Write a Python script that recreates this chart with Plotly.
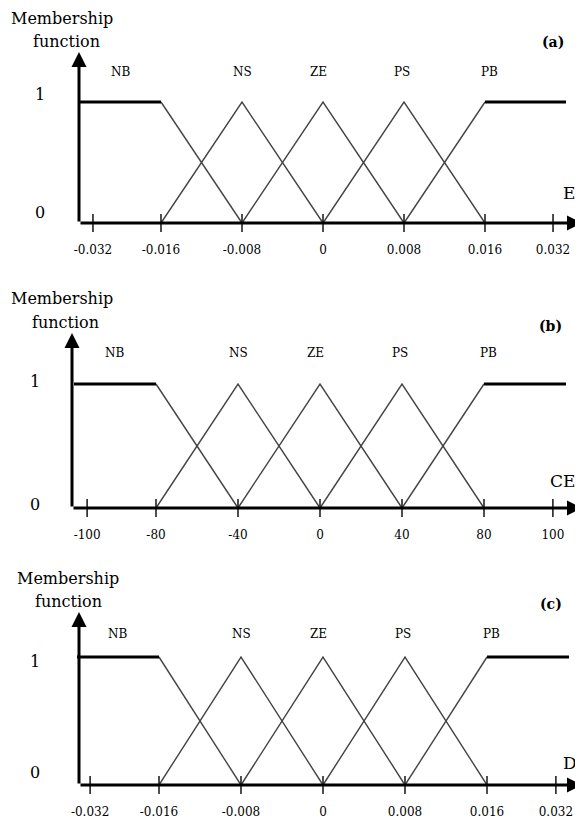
import plotly.graph_objects as go

# fuzzy partition shared by E, CE and D (x measured in breakpoint steps)
set_labels = ["NB", "NS", "ZE", "PS", "PB"]
set_label_x = [-2.5, -1.0, -0.05, 0.97, 2.05]
nb_flat_x, nb_flat_y = [-3, -2], [1, 1]
nb_fall_x, nb_fall_y = [-2, -1], [1, 0]
ns_x, ns_y = [-2, -1, 0], [0, 1, 0]
ze_x, ze_y = [-1, 0, 1], [0, 1, 0]
ps_x, ps_y = [0, 1, 2], [0, 1, 0]
pb_rise_x, pb_rise_y = [1, 2], [0, 1]
pb_flat_x, pb_flat_y = [2, 3], [1, 1]

# the outer ticks sit a little closer in the original sketch
tick_steps = [-2.84, -2, -1, 0, 1, 2, 2.84]
e_ticks = ["-0.032", "-0.016", "-0.008", "0", "0.008", "0.016", "0.032"]
ce_ticks = ["-100", "-80", "-40", "0", "40", "80", "100"]
d_ticks = ["-0.032", "-0.016", "-0.008", "0", "0.008", "0.016", "0.032"]

# page body has an 8px margin, so the figure is shrunk by that much
OFF = 8
PAGE_W, PAGE_H = 583, 821
W, H = PAGE_W - OFF, PAGE_H - OFF
PAD = 12
SERIF = "DejaVu Serif"

# per panel: zero px, px per step, axis px, px per unit, panel top px, and text spots (page px)
panels = [
    dict(var="E", tag="(a)", ticks=e_ticks, x0=323, sx=81, y0=223, sy=121, top=OFF,
         yax=79, arrow_top=52, memb=(62, 18), func=(66, 41), tagp=(553, 42),
         one=(40, 94), zero=(40, 212), varp=(569, 193), lab_y=72),
    dict(var="CE", tag="(b)", ticks=ce_ticks, x0=320, sx=82, y0=508, sy=124, top=268,
         yax=72, arrow_top=333, memb=(62, 298), func=(65, 322), tagp=(550, 326),
         one=(35, 381), zero=(35, 504), varp=(562, 481), lab_y=353),
    dict(var="D", tag="(c)", ticks=d_ticks, x0=323, sx=82, y0=785, sy=128, top=550,
         yax=79, arrow_top=612, memb=(68, 578), func=(68, 601), tagp=(551, 604),
         one=(35, 661), zero=(35, 772), varp=(570, 763), lab_y=634),
]

fig = go.Figure()
layout = {}
annotations = []

for i, p in enumerate(panels):
    sfx = "" if i == 0 else str(i + 1)
    xa, ya = "x" + sfx, "y" + sfx

    def px(v, p=p):
        return (v - p["x0"]) / p["sx"]

    def py(v, p=p):
        return (p["y0"] - v) / p["sy"]

    # thin sloped edges
    for xs, ys in [(nb_fall_x, nb_fall_y), (ns_x, ns_y), (ze_x, ze_y),
                   (ps_x, ps_y), (pb_rise_x, pb_rise_y)]:
        fig.add_trace(go.Scatter(x=xs, y=ys, mode="lines", xaxis=xa, yaxis=ya,
                                 line=dict(color="#444444", width=1.4),
                                 showlegend=False, hoverinfo="skip"))
    # thick shoulders
    for xs, ys in [(nb_flat_x, nb_flat_y), (pb_flat_x, pb_flat_y)]:
        fig.add_trace(go.Scatter(x=xs, y=ys, mode="lines", xaxis=xa, yaxis=ya,
                                 line=dict(color="black", width=3),
                                 showlegend=False, hoverinfo="skip"))
    # tick marks crossing the axis
    fig.add_trace(go.Scatter(x=tick_steps, y=[0] * len(tick_steps), mode="markers",
                             xaxis=xa, yaxis=ya, cliponaxis=False,
                             marker=dict(symbol="line-ns", size=13,
                                         line=dict(color="#222222", width=1.6)),
                             showlegend=False, hoverinfo="skip"))

    layout["xaxis" + sfx] = dict(
        domain=[0, 1], range=[px(OFF), px(PAGE_W)], anchor=ya,
        tickvals=tick_steps, ticktext=p["ticks"], ticks="outside", ticklen=4,
        tickcolor="rgba(0,0,0,0)", showgrid=False, zeroline=False, showline=False,
        tickfont=dict(family=SERIF, size=12, color="black"), fixedrange=True,
    )
    layout["yaxis" + sfx] = dict(
        domain=[1 - (p["y0"] + PAD - OFF) / H, 1 - (p["top"] - OFF) / H],
        range=[-PAD / p["sy"], (p["y0"] - p["top"]) / p["sy"]],
        anchor=xa, visible=False, fixedrange=True,
    )

    # axes drawn as arrows
    annotations.append(dict(x=px(PAGE_W - 1), y=0, ax=px(p["yax"]), ay=0, xref=xa, yref=ya,
                            axref=xa, ayref=ya, text="", showarrow=True, arrowhead=2,
                            arrowsize=1, arrowwidth=3, arrowcolor="black", standoff=0))
    annotations.append(dict(x=px(p["yax"]), y=py(p["arrow_top"]), ax=px(p["yax"]), ay=0,
                            xref=xa, yref=ya, axref=xa, ayref=ya, text="", showarrow=True,
                            arrowhead=2, arrowsize=1, arrowwidth=3, arrowcolor="black",
                            standoff=0))

    def txt(s, pos, size, bold=False, p=p):
        annotations.append(dict(x=px(pos[0]), y=py(pos[1]), xref=xa, yref=ya, text=s,
                                showarrow=False, xanchor="center", yanchor="middle",
                                font=dict(family=SERIF, size=size, color="black",
                                          weight="bold" if bold else "normal")))

    txt("Membership", p["memb"], 16)
    txt("function", p["func"], 16)
    txt(p["tag"], p["tagp"], 14, bold=True)
    txt("1", p["one"], 16)
    txt("0", p["zero"], 16)
    txt(p["var"], p["varp"], 17)
    for name, lx in zip(set_labels, set_label_x):
        annotations.append(dict(x=lx, y=py(p["lab_y"]), xref=xa, yref=ya, text=name,
                                showarrow=False, yanchor="middle",
                                font=dict(family=SERIF, size=12, color="black")))

fig.update_layout(
    width=W, height=H, autosize=False,
    margin=dict(l=0, r=0, t=0, b=0),
    paper_bgcolor="white", plot_bgcolor="white",
    annotations=annotations,
    **layout,
)

fig.write_html("out.html")
